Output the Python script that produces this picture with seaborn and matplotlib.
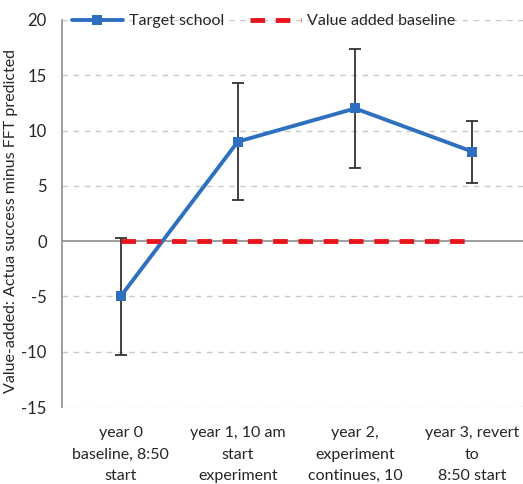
import matplotlib
matplotlib.use("Agg")
import matplotlib.pyplot as plt
import seaborn as sns
import pandas as pd

categories = [
    "year 0\nbaseline, 8:50\nstart",
    "year 1, 10 am\nstart\nexperiment",
    "year 2,\nexperiment\ncontinues, 10",
    "year 3, revert\nto\n8:50 start",
]
target_values = [-5.0, 9.0, 12.0, 8.1]
target_err = [5.3, 5.3, 5.35, 2.8]
baseline_values = [0, 0, 0, 0]
y_ticks = [-15, -10, -5, 0, 5, 10, 15, 20]

sns.set_theme(style="white")
plt.rcParams["font.family"] = ["Lato", "DejaVu Sans"]

BLUE = "#2f6fc0"
RED = "#e8141c"

df = pd.DataFrame({
    "pos": range(len(categories)),
    "target": target_values,
    "baseline": baseline_values,
})

fig = plt.figure(figsize=(5.23, 4.84), dpi=100)
ax = fig.add_axes([0.1185, 0.159, 0.89, 0.7997])

for t in y_ticks:
    if t != 0:
        ax.axhline(t, color="#c8c8c8", lw=1, ls=(0, (4, 4)), zorder=0)
ax.axhline(0, color="#8c8c8c", lw=1.2, zorder=1)

ax.errorbar(df["pos"], df["target"], yerr=target_err, fmt="none",
            ecolor="#333333", elinewidth=1.3, capsize=4, capthick=1.3, zorder=2)
sns.lineplot(data=df, x="pos", y="target", ax=ax, color=BLUE, lw=2.8,
             marker="s", markersize=7, markeredgewidth=0, label="Target school",
             zorder=3)
sns.lineplot(data=df, x="pos", y="baseline", ax=ax, color=RED, lw=3.5,
             ls=(0, (3, 2.2)), label="Value added baseline", zorder=4)

ax.set_xlim(-0.5, 3.47)
ax.set_ylim(-15, 20)
ax.set_yticks(y_ticks)
ax.set_yticklabels([str(t) for t in y_ticks], fontsize=12)
ax.set_xticks(range(len(categories)))
ax.set_xticklabels(categories, fontsize=11.5, linespacing=1.65)
ax.tick_params(axis="x", length=0, pad=14)
ax.tick_params(axis="y", length=0, pad=11)
ax.set_xlabel("")
ax.set_ylabel("Value-added: Actua success minus FFT predicted", fontsize=11.5)
ax.yaxis.set_label_coords(-0.095, 0.48)

for side in ["top", "right", "bottom"]:
    ax.spines[side].set_visible(False)
ax.spines["left"].set_color("#8c8c8c")
ax.spines["left"].set_linewidth(1.2)

ax.legend(loc="upper left", bbox_to_anchor=(0.0, 1.04), ncol=2, frameon=False,
          fontsize=11.5, handlelength=3.2, columnspacing=1.6, borderaxespad=0.2,
          handletextpad=0.4)

fig.savefig("out.png", dpi=100)
